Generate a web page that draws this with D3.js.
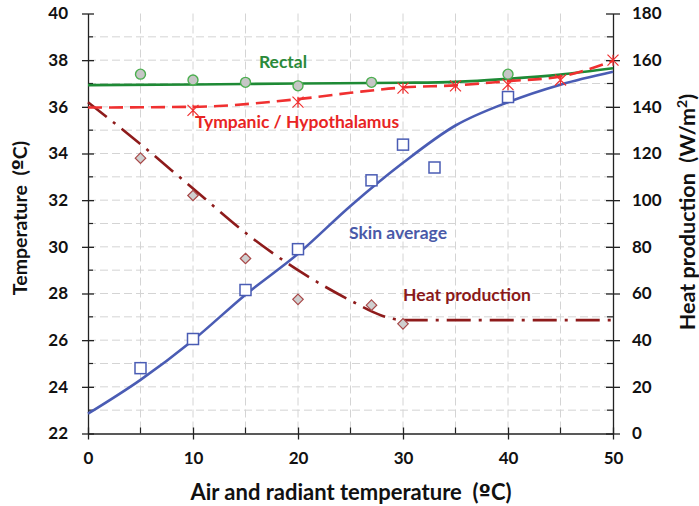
<!DOCTYPE html>
<html>
<head>
<meta charset="utf-8">
<script src="https://cdn.jsdelivr.net/npm/d3@7"></script>
<style>
  html, body { margin: 0; padding: 0; background: #fff; }
  svg text { font-family: Lato, "Open Sans", sans-serif; font-weight: bold; white-space: pre; }
  .ord { font-family: "DejaVu Sans", sans-serif; }
</style>
</head>
<body>
<svg id="chart" width="699" height="506"></svg>
<script>
// Axis ticks
const xTicks = [0, 10, 20, 30, 40, 50];
const tempTicks = [22, 24, 26, 28, 30, 32, 34, 36, 38, 40];
const heatTicks = [0, 20, 40, 60, 80, 100, 120, 140, 160, 180];

// Rectal temperature (ºC)
const rectalObsX = [5, 10, 15, 20, 27, 40];
const rectalObsY = [37.4, 37.15, 37.05, 36.9, 37.05, 37.4];
const rectalFitX = [0, 10, 20, 30, 35, 40, 45, 50];
const rectalFitY = [36.93, 36.96, 37.0, 37.03, 37.07, 37.2, 37.38, 37.65];

// Tympanic / hypothalamus temperature (ºC)
const tympObsX = [10, 20, 30, 35, 40, 45, 50];
const tympObsY = [35.85, 36.2, 36.8, 36.9, 36.95, 37.15, 38.0];
const tympFitX = [0, 10, 20, 25, 30, 35, 40, 45, 50];
const tympFitY = [35.97, 36.0, 36.33, 36.6, 36.83, 36.92, 37.1, 37.3, 37.97];

// Mean skin temperature (ºC)
const skinObsX = [5, 10, 15, 20, 27, 30, 33, 40];
const skinObsY = [24.8, 26.05, 28.15, 29.9, 32.85, 34.38, 33.4, 36.42];
const skinFitX = [0, 5, 10, 15, 20, 25, 30, 35, 40, 45, 50];
const skinFitY = [22.85, 24.3, 26.0, 27.95, 29.7, 31.75, 33.6, 35.2, 36.2, 36.95, 37.5];

// Metabolic heat production (W/m²)
const heatObsX = [5, 10, 15, 20, 27, 30];
const heatObsY = [118, 102, 75, 57.5, 55, 47];
const heatFitX = [0, 5, 10, 15, 20, 25, 28, 30, 35, 40, 45, 50];
const heatFitY = [142, 124, 105, 86, 70, 57, 50.5, 48.6, 48.6, 48.6, 48.6, 48.6];

const svg = d3.select("#chart");
const L = 88, R = 613, T = 13.5, B = 433.5;

const x = d3.scaleLinear().domain([0, 50]).range([L, R]);
const yT = d3.scaleLinear().domain([22, 40]).range([B, T]);
const yH = d3.scaleLinear().domain([0, 180]).range([B, T]);

const zip = (xs, ys) => xs.map((v, i) => [v, ys[i]]);

// Grid: dashed lines every 5 ºC of air temperature and every 1 ºC of body temperature
const grid = svg.append("g").attr("stroke", "#d4d4d4").attr("stroke-width", 1)
  .attr("stroke-dasharray", "8,4");
d3.range(5, 50, 5).forEach(v => {
  grid.append("line").attr("x1", x(v)).attr("x2", x(v)).attr("y1", T).attr("y2", B);
});
d3.range(23, 40, 1).forEach(v => {
  grid.append("line").attr("x1", L).attr("x2", R).attr("y1", yT(v)).attr("y2", yT(v));
});

// Axes
const axisColor = "#222";
function styleAxis(g) {
  g.select(".domain").attr("stroke", axisColor).attr("stroke-width", 1.3);
  g.selectAll(".tick line").attr("stroke", axisColor).attr("stroke-width", 1.3);
  g.selectAll(".tick text").attr("fill", "#111").style("font-size", "17px");
}

// minor ticks (inside only)
const minor = svg.append("g").attr("stroke", axisColor).attr("stroke-width", 1.2);
d3.range(23, 40, 2).forEach(v => minor.append("line")
  .attr("x1", L).attr("x2", L + 5).attr("y1", yT(v)).attr("y2", yT(v)));
d3.range(10, 180, 20).forEach(v => minor.append("line")
  .attr("x1", R - 6).attr("x2", R).attr("y1", yH(v)).attr("y2", yH(v)));
d3.range(5, 50, 10).forEach(v => minor.append("line")
  .attr("x1", x(v)).attr("x2", x(v)).attr("y1", B - 6).attr("y2", B));

const gx = svg.append("g").attr("transform", `translate(0,${B})`)
  .call(d3.axisBottom(x).tickValues(xTicks).tickSize(6).tickSizeOuter(0).tickPadding(12));
gx.selectAll(".tick line").attr("y1", -6);
styleAxis(gx);

const gl = svg.append("g").attr("transform", `translate(${L},0)`)
  .call(d3.axisLeft(yT).tickValues(tempTicks).tickSize(6).tickSizeOuter(0).tickPadding(14));
gl.selectAll(".tick line").attr("x1", 6);
styleAxis(gl);

const gr = svg.append("g").attr("transform", `translate(${R},0)`)
  .call(d3.axisRight(yH).tickValues(heatTicks).tickSize(7).tickSizeOuter(0).tickPadding(12));
gr.selectAll(".tick line").attr("x1", -7);
styleAxis(gr);

// Fitted curves
const lineT = d3.line().x(d => x(d[0])).y(d => yT(d[1])).curve(d3.curveMonotoneX);
const lineH = d3.line().x(d => x(d[0])).y(d => yH(d[1])).curve(d3.curveMonotoneX);

svg.append("path").datum(zip(heatFitX, heatFitY)).attr("d", lineH)
  .attr("fill", "none").attr("stroke", "#8e1b1b").attr("stroke-width", 2.6)
  .attr("stroke-dasharray", "24,8,3,8");
svg.append("path").datum(zip(skinFitX, skinFitY)).attr("d", lineT)
  .attr("fill", "none").attr("stroke", "#4a5cb4").attr("stroke-width", 2.6);
svg.append("path").datum(zip(rectalFitX, rectalFitY)).attr("d", lineT)
  .attr("fill", "none").attr("stroke", "#1e8a35").attr("stroke-width", 2.6);
svg.append("path").datum(zip(tympFitX, tympFitY)).attr("d", lineT)
  .attr("fill", "none").attr("stroke", "#f03030").attr("stroke-width", 2.6)
  .attr("stroke-dasharray", "14,7");

// Observed points
svg.append("g").selectAll("rect").data(zip(skinObsX, skinObsY)).join("rect")
  .attr("x", d => x(d[0]) - 5.5).attr("y", d => yT(d[1]) - 5.5)
  .attr("width", 11).attr("height", 11)
  .attr("fill", "#fff").attr("stroke", "#4a5cb4").attr("stroke-width", 1.5);

svg.append("g").selectAll("circle").data(zip(rectalObsX, rectalObsY)).join("circle")
  .attr("cx", d => x(d[0])).attr("cy", d => yT(d[1])).attr("r", 5)
  .attr("fill", "#c6c6c6").attr("stroke", "#4caf50").attr("stroke-width", 1.4);

const diamond = d3.symbol().type(d3.symbolDiamond2).size(70);
svg.append("g").selectAll("path").data(zip(heatObsX, heatObsY)).join("path")
  .attr("transform", d => `translate(${x(d[0])},${yH(d[1])})`)
  .attr("d", diamond)
  .attr("fill", "#cfcfcf").attr("stroke", "#a84848").attr("stroke-width", 1.2);

const star = svg.append("g").attr("stroke", "#f03030").attr("stroke-width", 1.2).attr("fill", "none");
zip(tympObsX, tympObsY).forEach(d => {
  const cx = x(d[0]), cy = yT(d[1]), s = 5.5;
  star.append("path").attr("d",
    `M${cx - s},${cy - s}L${cx + s},${cy + s}M${cx - s},${cy + s}L${cx + s},${cy - s}M${cx},${cy - s}L${cx},${cy + s}`);
});

// Series labels
const labels = [
  { text: "Rectal", x: 283, y: 62, color: "#2a8a3a" },
  { text: "Tympanic / Hypothalamus", x: 297, y: 122, color: "#e82424" },
  { text: "Skin average", x: 398, y: 233, color: "#4a5aa8" },
  { text: "Heat production", x: 467, y: 295, color: "#8b1a1a" }
];
svg.append("g").selectAll("text").data(labels).join("text")
  .attr("x", d => d.x).attr("y", d => d.y).attr("dy", "0.35em")
  .attr("text-anchor", "middle").attr("fill", d => d.color)
  .style("font-size", "17.5px").text(d => d.text);

// Axis titles
const xt = svg.append("text").attr("x", 351).attr("y", 492).attr("dy", "0.35em")
  .attr("text-anchor", "middle").attr("fill", "#111").style("font-size", "22px");
xt.append("tspan").text("Air and radiant temperature  (");
xt.append("tspan").attr("class", "ord").text("º");
xt.append("tspan").text("C)");

const lt = svg.append("text").attr("transform", "translate(20,218) rotate(-90)").attr("dy", "0.35em")
  .attr("text-anchor", "middle").attr("fill", "#111").style("font-size", "19.5px");
lt.append("tspan").text("Temperature  (");
lt.append("tspan").attr("class", "ord").text("º");
lt.append("tspan").text("C)");

const rt = svg.append("text").attr("transform", "translate(687,212) rotate(-90)").attr("dy", "0.35em")
  .attr("text-anchor", "middle").attr("fill", "#111").style("font-size", "21.5px");
rt.append("tspan").text("Heat production  (W/m");
rt.append("tspan").attr("baseline-shift", "super").style("font-size", "14px").text("2");
rt.append("tspan").text(")");
</script>
</body>
</html>
